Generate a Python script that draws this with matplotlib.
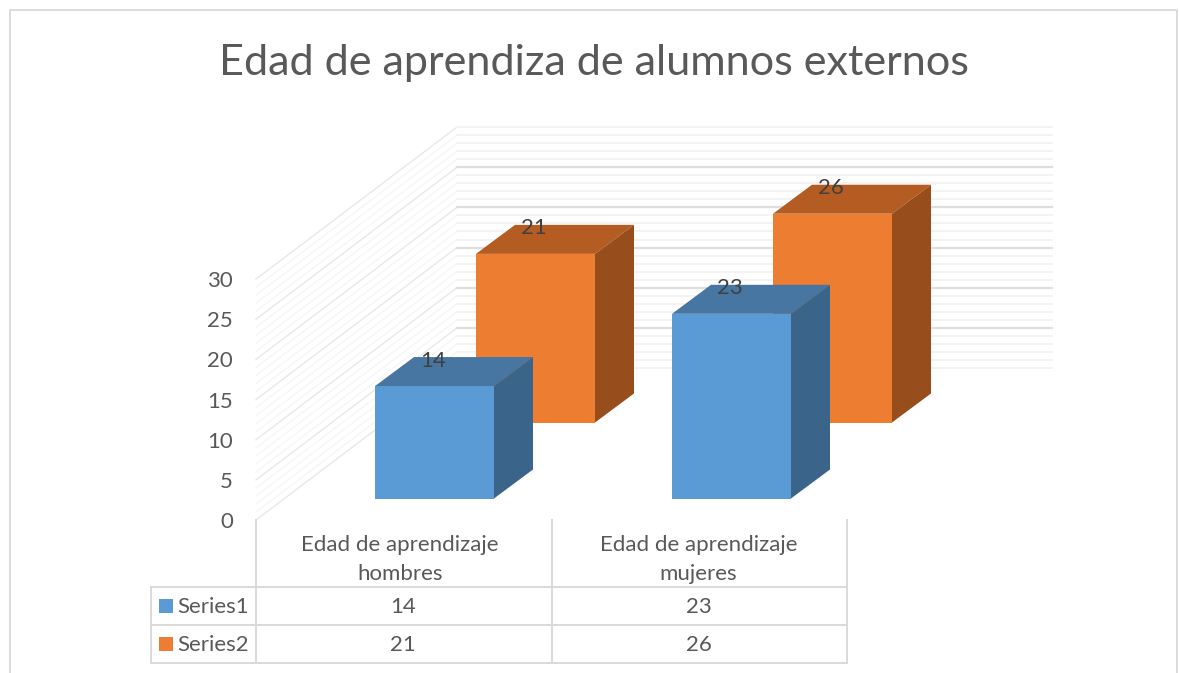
import matplotlib
matplotlib.use("Agg")
import matplotlib.pyplot as plt

plt.rcParams['font.family'] = ['Lato', 'DejaVu Sans']

title = "Edad de aprendiza de alumnos externos"
categories = ["Edad de aprendizaje\nhombres", "Edad de aprendizaje\nmujeres"]
series_names = ["Series1", "Series2"]
series1 = [14, 23]
series2 = [21, 26]
y_ticks = [0, 5, 10, 15, 20, 25, 30]

# colours: front, top, side
blues = ("#5b9bd5", "#4676a1", "#3a6489")
oranges = ("#ed7d31", "#b45c22", "#984e1c")
text_col = "#595959"
grid_major = "#dedede"
grid_minor = "#f2f2f2"

# pixel layout of the fake 3d box
y_zero = 520
px_per_unit = 8.03
wall_dx = 201
wall_dy = 152
box_left = 256
box_right = 1052
bar_w = 119
bar_dx = 39
bar_dy = 29
cat_step = 297

fig = plt.figure(figsize=(11.79, 6.73), dpi=100)
ax = fig.add_axes([0, 0, 1, 1])
ax.set_xlim(0, 1179)
ax.set_ylim(673, 0)
ax.axis("off")

# outer frame
ax.plot([10, 10, 1177, 1177], [673, 10, 10, 673], color="#d9d9d9", lw=1.3)

ax.text(594, 63.5, title, ha="center", va="center", fontsize=31.1, color=text_col)

# walls
for v in range(0, 31):
    y = y_zero - v * px_per_unit
    major = v % 5 == 0
    # left wall is paler than the back wall
    ax.plot([box_left, box_left + wall_dx], [y, y - wall_dy],
            color="#e8e8e8" if major else "#f6f6f6", lw=1.0, zorder=1)
    back_major = major and 0 < v < 30
    ax.plot([box_left + wall_dx, box_right], [y - wall_dy, y - wall_dy],
            color=grid_major if back_major else grid_minor,
            lw=1.6 if back_major else 1.3, zorder=1)

for t in y_ticks:
    ax.text(233, y_zero + 2 - t * px_per_unit, str(t), ha="right", va="center",
            fontsize=16, color=text_col)


def draw_bar(left, bottom, value, cols, z):
    top = bottom - value * px_per_unit
    right = left + bar_w
    ax.fill([left, right, right, left], [bottom, bottom, top, top],
            color=cols[0], lw=0, zorder=z)
    ax.fill([left, right, right + bar_dx, left + bar_dx],
            [top, top, top - bar_dy, top - bar_dy], color=cols[1], lw=0, zorder=z)
    ax.fill([right, right + bar_dx, right + bar_dx, right],
            [bottom, bottom - bar_dy, top - bar_dy, top], color=cols[2], lw=0, zorder=z)
    ax.text(left + 58, top - 25.5, str(value), ha="center", va="center",
            fontsize=16, color="#404040", zorder=z + 1)


# back row first so the front row covers it
for i, v in enumerate(series2):
    draw_bar(476 + i * cat_step, 422.5, v, oranges, 3)
for i, v in enumerate(series1):
    draw_bar(375 + i * cat_step, 498.5, v, blues, 5)

# data table
col_x = [256, 552, 847]
row_y = [587, 625, 663]
tcol = "#d9d9d9"
for x in col_x:
    ax.plot([x, x], [520, 663], color=tcol, lw=1.4, zorder=2)
ax.plot([151, 151], [587, 663], color=tcol, lw=1.4, zorder=2)
for y in row_y:
    ax.plot([151, 847], [y, y], color=tcol, lw=1.4, zorder=2)

for i, c in enumerate(categories):
    ax.text((col_x[i] + col_x[i + 1]) / 2 - 4 + 3 * i, 559.5, c, ha="center", va="center",
            fontsize=16, color=text_col, linespacing=1.6)

rows = [series1, series2]
swatches = [blues[0], oranges[0]]
for r, name in enumerate(series_names):
    yc = (row_y[r] + row_y[r + 1]) / 2 + 1 if r == 0 else 645
    ax.fill([159, 173, 173, 159], [yc - 8, yc - 8, yc + 6, yc + 6], color=swatches[r], lw=0)
    ax.text(177, yc, name, ha="left", va="center", fontsize=16, color=text_col)
    for i, v in enumerate(rows[r]):
        ax.text((col_x[i] + col_x[i + 1]) / 2 - 1, yc, str(v), ha="center", va="center",
                fontsize=16, color=text_col)

fig.savefig("out.png", dpi=100, facecolor="white")
